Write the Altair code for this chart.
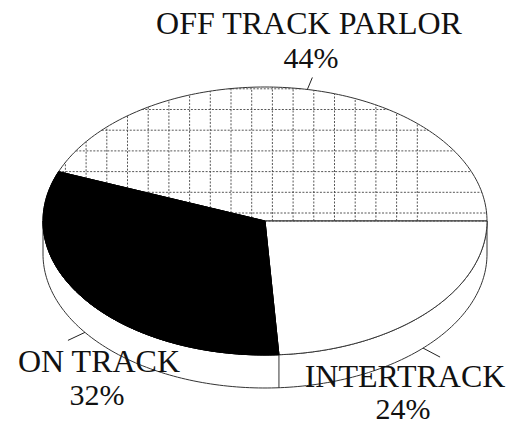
import numpy as np
import pandas as pd
import altair as alt

# ---- data ----
categories = ["OFF TRACK PARLOR", "ON TRACK", "INTERTRACK"]
shares = [44, 32, 24]
pct_labels = ["44%", "32%", "24%"]

# ---- layout (pixel units of the picture) ----
W, H = 501, 412
CX, CY, A, B, DEPTH = 265, 221, 222, 134, 33
START_DEG = 0.0
fills = ["white", "black", "white"]
name_x = [309, 99, 405]
name_y = [34, 372, 387]
pct_x = [311, 97, 403]
pct_y = [68, 405, 419]
leader_t = [79.0, 215.8, 315.4]
leader_dy = [0, DEPTH, DEPTH]
leader_vec = [(5, -12), (-17, 8), (17, 9)]
HATCH_STEP = 20.7
HATCH_X0 = 417.3
HATCH_Y0 = 213.0


def ell(t_deg, dy=0.0):
    t = np.radians(t_deg)
    return CX + A * np.cos(t), CY - B * np.sin(t) + dy


xs = alt.Scale(domain=[8, 8 + W], nice=False, zero=False)
ys = alt.Scale(domain=[8, 8 + H], nice=False, zero=False, reverse=True)


def enc(ch, extra=None):
    kw = dict(x=alt.X("x:Q", scale=xs, axis=None),
              y=alt.Y("y:Q", scale=ys, axis=None),
              order=alt.Order("i:Q"))
    if extra:
        kw.update(extra)
    return ch.encode(**kw)


# slice angles
bounds = [START_DEG]
for s in shares:
    bounds.append(bounds[-1] + 360.0 * s / sum(shares))

# side band (front half)
t_top = np.linspace(180, 360, 160)
bx, by = ell(t_top)
lx, ly = ell(t_top[::-1], DEPTH)
band = pd.DataFrame({"x": np.r_[bx, lx, bx[:1]], "y": np.r_[by, ly, by[:1]]})
band["i"] = np.arange(len(band))

layers = [enc(alt.Chart(band).mark_line(fill="white", stroke="#333", strokeWidth=1.0, interpolate="linear"))]

# side edge between slices on front
edges = []
for k, b in enumerate(bounds[:-1]):
    tb = b % 360
    if 180 < tb < 360:
        x0, y0 = ell(tb)
        x1, y1 = ell(tb, DEPTH)
        edges.append({"x": x0, "y": y0, "i": 0, "seg": k})
        edges.append({"x": x1, "y": y1, "i": 1, "seg": k})

# top slices
slice_layers = []
for k, cat in enumerate(categories):
    t = np.linspace(bounds[k], bounds[k + 1], 140)
    px, py = ell(t)
    df = pd.DataFrame({"x": np.r_[CX, px, CX], "y": np.r_[CY, py, CY]})
    df["i"] = np.arange(len(df))
    stroke = "black" if fills[k] == "black" else "#333"
    slice_layers.append(enc(alt.Chart(df).mark_line(fill=fills[k], stroke=stroke,
                                                    strokeWidth=1.0, interpolate="linear")))
order_idx = [0, 2, 1]
layers += [slice_layers[k] for k in order_idx]

if edges:
    layers.append(enc(alt.Chart(pd.DataFrame(edges)).mark_line(stroke="#333", strokeWidth=1.0),
                      {"detail": "seg:N"}))

# crosshatch in the first slice
th = np.radians(bounds[1])
dirx, diry = A * np.cos(th), B * np.sin(th)
segs = []
sid = 0
yl = HATCH_Y0
while yl > CY - B:
    Y = CY - yl
    if Y > 0:
        xr = A * np.sqrt(max(0.0, 1 - (Y / B) ** 2))
        xl = max(-xr, Y * dirx / diry)
        if xl < xr:
            segs += [{"x": CX + xl, "y": yl, "i": 0, "seg": sid},
                     {"x": CX + xr, "y": yl, "i": 1, "seg": sid}]
            sid += 1
    yl -= HATCH_STEP
segs += [{"x": CX, "y": CY, "i": 0, "seg": sid}, {"x": CX + A, "y": CY, "i": 1, "seg": sid}]
sid += 1
xv = HATCH_X0
while xv > CX - A:
    X = xv - CX
    ytop = B * np.sqrt(max(0.0, 1 - (X / A) ** 2))
    ylow = 0.0 if X >= 0 else X * diry / dirx
    if ylow < ytop:
        segs += [{"x": xv, "y": CY - ylow, "i": 0, "seg": sid},
                 {"x": xv, "y": CY - ytop, "i": 1, "seg": sid}]
        sid += 1
    xv -= HATCH_STEP
hatch = pd.DataFrame(segs)
layers.append(enc(alt.Chart(hatch).mark_line(stroke="#444", strokeWidth=0.9, strokeDash=[2, 1.5]),
                  {"detail": "seg:N"}))

layers.append(slice_layers[1])

# leader lines
lead = []
for k in range(len(categories)):
    x0, y0 = ell(leader_t[k], leader_dy[k])
    lead += [{"x": x0, "y": y0, "i": 0, "seg": k},
             {"x": x0 + leader_vec[k][0], "y": y0 + leader_vec[k][1], "i": 1, "seg": k}]
layers.append(enc(alt.Chart(pd.DataFrame(lead)).mark_line(stroke="#222", strokeWidth=1.0),
                  {"detail": "seg:N"}))

# labels
lab = pd.DataFrame({"cat": categories, "pct": pct_labels,
                    "nx": name_x, "ny": name_y, "px": pct_x, "py": pct_y})
name_t = alt.Chart(lab).mark_text(font="Liberation Serif", fontSize=32, color="#111",
                                  baseline="alphabetic", align="center").encode(
    x=alt.X("nx:Q", scale=xs, axis=None), y=alt.Y("ny:Q", scale=ys, axis=None), text="cat:N")
pct_t = alt.Chart(lab).mark_text(font="Liberation Serif", fontSize=30, color="#111",
                                 baseline="alphabetic", align="center").encode(
    x=alt.X("px:Q", scale=xs, axis=None), y=alt.Y("py:Q", scale=ys, axis=None), text="pct:N")
layers += [name_t, pct_t]

chart = alt.layer(*layers).properties(
    width=W, height=H, padding=0,
    autosize=alt.AutoSizeParams(type="none"),
    background="white",
).configure_view(stroke=None)

chart.save("out.html", embed_options={"renderer": "svg", "actions": False})
